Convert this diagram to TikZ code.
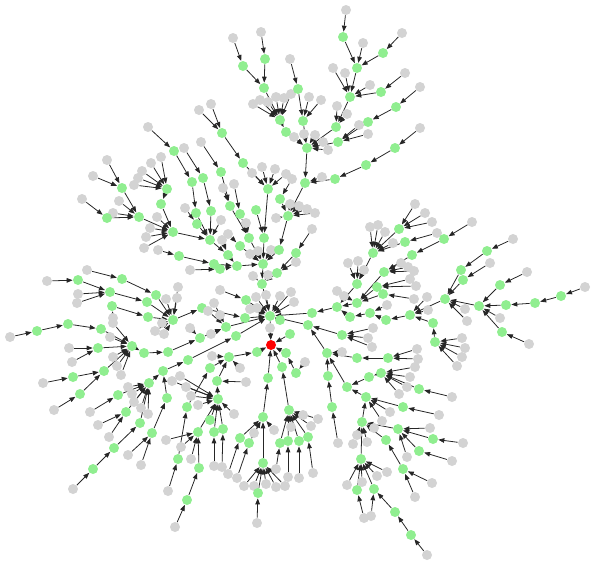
\documentclass[tikz,border=0pt]{standalone}
\usetikzlibrary{arrows.meta, backgrounds}
\definecolor{gy}{RGB}{211,211,211}
\definecolor{gn}{RGB}{144,238,144}
\tikzstyle{vertex} = [circle, inner sep=0pt, minimum size=2mm]
\tikzstyle{rootv} = [vertex, fill=red]
\tikzstyle{edge} = [line width=0.45pt, black!85, -{Triangle[length=3.4pt,width=2.6pt]}]
% name/x/y/parent/colour (pixel coordinates)
\def\treelist{
H/270/316/R/gn, h2/280/320/H/gn, hr/270/328/R/gy,
Hg1/266/295/H/gy, Hg2/280/296/H/gy, Hg3/291/292/H/gy, Hg4/294/302/H/gy, Hg5/256/297/H/gy, Hg6/257/308/H/gy, Hg7/250/309/H/gy,
c2/262/284/H/gn, c2a/253/276/c2/gy, c2b/268/275/c2/gy,
C1/263/264/c2/gn, C1a/250/254/C1/gy, C1b/258/251/C1/gy, C1c/271/250/C1/gy,
u1/264/238/C1/gn, u2/249/238/C1/gn, u2a/246/223/u2/gy, u3/279/250/C1/gn, u4/240/246/C1/gn, u4a/228/234/u4/gy,
u5/237/266/C1/gn, u6/277/273/c2/gn, u6g/296/262/u6/gy, u7/296/253/u6/gn, u7g/312/229/u7/gy,
C2/268/189/u1/gn, C2a/252/173/C2/gy, C2b/262/167/C2/gy, C2c/275/169/C2/gy, C2d/286/174/C2/gy,
v1/243/163/C2/gn, v2/222/133/v1/gn, v2a/199/110/v2/gy, v2b/211/104/v2/gy,
w1/221/172/w2/gn, w1a/201/142/w1/gy, w2/230/206/u2/gn, w2a/223/188/w2/gy,
w3/240/214/u2/gn, w3a/234/184/w3/gy, w4/256/210/u1/gn,
C3/288/216/u3/gn, C3a/290/204/C3/gy, C3b/299/206/C3/gy, C3c/307/209/C3/gy, C3d/315/213/C3/gy, C3e/276/218/C3/gy,
x1/305/183/C3/gn, x1a/322/177/x1/gy, x2/280/199/C3/gn, x2a/292/179/x2/gy,
y1/335/179/x1/gn, y2/366/165/y1/gn, y3/395/148/y2/gn, y3a/420/128/y3/gy,
T/307/148/x1/gn, Ta/294/137/T/gy, Tb/304/134/T/gy, Tc/315/135/T/gy, Td/323/142/T/gy, Te/328/150/T/gy,
t1/286/132/T/gn, t2/280/120/t1/gn,
t2a/253/104/t2/gy, t2b/260/100/t2/gy, t2c/268/102/t2/gy, t2d/276/97/t2/gy, t2e/284/98/t2/gy, t2f/291/94/t2/gy,
t3/264/88/t2/gn, t4/243/66/t3/gn, t4a/233/38/t4/gy, t5/265/59/t3/gn, t5a/261/32/t5/gy,
t6/303/121/T/gn, t7/298/89/t6/gn, t7a/290/59/t7/gy, t6a/309/97/t6/gy, t6b/321/100/t6/gy,
t8/336/127/T/gn, t8a/337/106/t8/gy, t8b/347/114/t8/gy, t9/350/97/t8/gn,
t9a/333/68/t9/gy, t9b/345/73/t9/gy, t9c/370/85/t9/gy,
t10/357/68/t9/gn, t11/381/92/t9/gn, t11a/405/73/t11/gy,
t12/343/37/t10/gn, t12a/346/10/t12/gy, t10a/363/43/t10/gy, t13/383/53/t10/gn, t13a/402/33/t13/gy,
t14/338/142/T/gn, t14a/359/125/t14/gy, t14b/368/134/t14/gy, t15/368/122/t14/gn, t16/396/107/t15/gn, t16a/420/87/t16/gy,
z1/228/255/u5/gn, z1a/222/240/z1/gy, B1/210/240/z1/gn, B1b/221/220/B1/gy,
b1/196/213/B1/gn, b2/211/211/B1/gn, b3/197/224/B1/gn, b3a/185/208/b3/gy,
b4/192/182/b1/gn, b5/174/151/b4/gn, b5a/148/127/b5/gy, b6/203/178/b2/gn, b6a/184/148/b6/gy,
K/173/232/B1/gn, Ka/150/228/K/gy, Kb/146/237/K/gy, Kc/144/248/K/gy, Kd/157/217/K/gy,
k1/139/217/K/gn, k1a/119/201/k1/gy, k1b/113/213/k1/gy,
k3/122/188/k1/gn, k3a/107/160/k3/gy, k3b/93/176/k3/gy, k4/107/218/k1/gn, k4a/82/199/k4/gy,
k2/161/204/K/gn, K5/167/189/k2/gn,
K5a/151/163/K5/gy, K5b/161/157/K5/gy, K5c/142/171/K5/gy, K5d/138/178/K5/gy, K5e/134/185/K5/gy,
z2/214/264/u5/gn, z3/220/269/u5/gn, z4/179/256/z2/gn, z4a/158/250/z4/gy, z3a/190/270/z3/gy,
L7/246/300/H/gn, L7a/220/290/L7/gy, Lh/245/318/H/gn, L0/202/308/Lh/gn,
L1/173/320/L0/gn, L1a/162/323/L1/gy, L1b/155/331/L1/gy, L1c/164/334/L1/gy, L1d/166/299/L1/gy, L1e/177/298/L1/gy, L1f/178/287/L1/gy,
l1/156/295/L1/gn, l2/147/302/L1/gn, l3/148/317/L1/gn,
l4/122/279/l1/gn, l4a/87/270/l4/gy,
l5/110/292/l2/gn, l6/78/280/l5/gn, l6a/47/281/l6/gy, l5a/78/294/l5/gy, l5b/77/303/l5/gy,
l7/112/306/l3/gn, l7a/113/318/l7/gy,
Mh/226/327/H/gn, Mha/220/315/Mh/gy, Mhb/208/311/Mh/gy, Mhc/214/303/Mh/gy, Mhd/211/334/Mh/gy,
M/200/338/Mh/gn, Ma/190/328/M/gy, m2/168/352/M/gn, m1/144/353/m2/gn,
L2/132/346/m1/gn, L2a/113/323/L2/gy, L2b/110/337/L2/gy, L2c/113/357/L2/gy, L2d/117/366/L2/gy, L2e/121/375/L2/gy,
m3/101/329/L2/gn, m4/98/348/L2/gn, m5/104/371/L2/gn,
m6/68/324/m3/gn, m7/37/331/m6/gn, m7a/10/337/m7/gy,
m4a/69/348/m4/gy, m4b/72/362/m4/gy,
m8/73/377/m5/gn, m8a/43/383/m8/gy, m9/80/394/m5/gn, m9a/54/410/m9/gy,
Nh/236/336/H/gn, n2/188/360/Nh/gn, n1/163/371/n2/gn,
Q/149/383/n1/gn, Qa/128/387/Q/gy, Qb/132/394/Q/gy, Qd/134/402/Q/gy, Qe/141/408/Q/gy, Qf/148/414/Q/gy,
q1/118/395/Q/gn, q1a/90/412/q1/gy, q2/126/412/Q/gn, q2a/98/425/q2/gy, q2b/109/437/q2/gy,
q3/140/423/Q/gn, q4/114/448/q3/gn, q5/93/469/q4/gn, q5a/73/489/q5/gy,
n3/167/398/n1/gn, n4/152/433/n3/gn, n4a/128/455/n4/gy, n4b/141/465/n4/gy,
W0/257/352/R/gn, W/229/357/W0/gn, Wa/212/356/W/gy, Wb/240/368/W/gy,
W1/210/368/W/gn, W3/187/407/W1/gn, W4/178/459/W3/gn, W4a/168/491/W4/gy,
W2/217/381/W/gn, Wc/246/382/W2/gy,
V/218/399/W2/gn, Va/198/405/V/gy, Vd/191/396/V/gy, Ve/186/387/V/gy, Vf/234/414/V/gy, Vg/180/376/V/gy, Vh/172/381/V/gy,
V2/210/420/V/gn, V3/214/432/V/gn, V4/223/429/V/gn, V3a/214/466/V3/gy, V4a/222/467/V4/gy,
Y/198/432/V/gn, Ya/166/440/Y/gy, Yb/181/447/Y/gy, Yc/191/459/Y/gy,
yy1/199/468/Y/gn, yy2/187/500/yy1/gn, yy2a/175/527/yy2/gy,
B0/268/378/R/gn, Bt/263/417/B0/gn, Bta/254/433/Bt/gy, Btb/274/430/Bt/gy,
bt1/240/438/Bt/gn, bt2/249/443/Bt/gn, bt1a/228/474/bt1/gy, bt2a/237/478/bt2/gy,
Bh/263/463/Bt/gn, Bha/244/486/Bh/gy, Bhb/254/486/Bh/gy, Bhc/266/484/Bh/gy, Bhd/276/487/Bh/gy, Bhe/285/486/Bh/gy,
bh1/258/493/Bh/gn, bh1a/257/523/bh1/gy,
p0/282/367/R/gn, P/289/410/p0/gn, Pa/303/415/P/gy, Pb/311/426/P/gy, Pc/318/419/P/gy, Pd/291/427/P/gy,
p1/280/443/P/gn, p2/288/441/P/gn, p3/299/441/P/gn, p4/308/437/P/gn,
p1a/276/469/p1/gy, p2a/288/477/p2/gy, p3a/299/478/p3/gy, p4a/313/473/p4/gy,
p6/286/353/R/gn, p5/296/373/p6/gn, p5a/305/362/p5/gy, p7/290/334/R/gn,
O1/312/313/H/gn, O3/308/325/H/gn, O2/337/307/O1/gn,
r1/357/284/O2/gn, r1a/348/263/r1/gy, r1b/358/261/r1/gy, r1c/364/270/r1/gy,
r4/373/253/r1/gn, r4a/370/227/r4/gy, r4b/378/225/r4/gy, r4c/385/232/r4/gy, r4d/393/243/r4/gy,
r5/399/229/r4/gn, r5a/415/204/r5/gy, r5b/425/213/r5/gy, r5c/432/222/r5/gy,
r6/405/242/r4/gn, r6a/437/233/r6/gy,
r2/357/303/O2/gn, r2a/337/291/r2/gy, r2b/344/296/r2/gy,
r7/384/272/r2/gn, r7b/401/263/r7/gy, r7c/408/267/r7/gy, r7d/414/271/r7/gy,
r9/377/287/r2/gn, r9a/410/279/r9/gy, r9b/416/286/r9/gy,
r11/412/255/r7/gn, r12/444/239/r11/gn, r12a/472/222/r12/gy,
r8/383/294/r2/gn, r8a/414/299/r8/gy,
r3/350/317/O2/gn, r13/370/313/r3/gn, r13a/387/305/r13/gy, r14/386/320/r13/gn,
r15/410/315/r14/gn, r15a/427/297/r15/gy, r15b/428/310/r15/gy,
E/445/299/r15/gn, Ea/465/309/E/gy, Eb/467/321/E/gy,
e1/461/270/E/gn, e2/463/280/E/gn, e2a/490/263/e2/gy, e4/487/251/e1/gn, e4a/513/239/e4/gy,
e3/479/306/E/gn, e3a/500/318/e3/gy, e5/500/285/e3/gn, e5a/527/272/e5/gy,
e6/506/305/e3/gn, e7/535/303/e6/gn, e8/561/296/e7/gn, e8a/585/287/e8/gy,
e9/502/332/e3/gn, e9a/529/344/e9/gy,
r16/433/323/r15/gn, r17/435/342/r16/gn,
r17a/462/338/r17/gy, r17b/465/348/r17/gy, r17c/462/357/r17/gy, r17d/457/366/r17/gy,
S/342/335/O3/gn, Sa/372/347/S/gy, Sb/373/328/S/gy, Sc/368/338/S/gy,
G/327/353/O3/gn, Ga/342/352/G/gy,
g1/328/376/G/gn, g4/332/407/g1/gn, g4a/338/443/g4/gy,
g3/357/358/G/gn, g5/388/358/g3/gn, g5a/417/349/g5/gy, g5b/418/359/g5/gy,
g2/347/387/G/gn, g6/369/377/g2/gn, g7/381/373/g6/gn,
g7a/415/367/g7/gy, g7b/410/377/g7/gy, g7c/407/387/g7/gy, g7d/399/394/g7/gy,
g8/419/389/g7/gn, g8a/452/397/g8/gy,
Z/366/397/g2/gn, Za/390/412/Z/gy, Zb/382/421/Z/gy, z6/403/407/Z/gn, z6a/439/415/z6/gy,
z5/362/422/Z/gn, z5a/353/444/z5/gy, z5b/357/435/z5/gy, z5c/367/442/z5/gy, z5d/374/428/z5/gy,
z7/398/429/z5/gn, z7a/430/428/z7/gy, z7b/407/457/z7/gy,
z10/433/439/z7/gn, z10a/463/443/z10/gy, z11/419/451/z7/gn, z11a/452/461/z11/gy,
z8/386/440/z5/gn, z12/403/469/z8/gn, z12a/432/483/z12/gy, z12b/415/497/z12/gy,
z9/361/459/z5/gn, z9a/347/485/z9/gy, z9b/362/482/z9/gy, z9c/377/476/z9/gy, z9d/387/472/z9/gy,
z13/357/490/z9/gn, z13a/364/518/z13/gy, z14/374/489/z9/gn, z14a/371/516/z14/gy,
z15/395/512/z14/gn, z16/411/535/z15/gn, z16a/427/555/z16/gy}
\begin{document}
\begin{tikzpicture}[x=0.2mm, y=-0.2mm]
	\useasboundingbox (0,0) rectangle (596,566);
	\node (R) [rootv] at (271,345) {};
	\foreach \n/\x/\y/\p/\c in \treelist {
		\node (\n) [vertex, fill=\c] at (\x,\y) {};
	}
	\begin{pgfonlayer}{background}
		\foreach \n/\x/\y/\p/\c in \treelist {
			\draw [edge] (\n) -- (\p);
		}
	\end{pgfonlayer}
\end{tikzpicture}
\end{document}
